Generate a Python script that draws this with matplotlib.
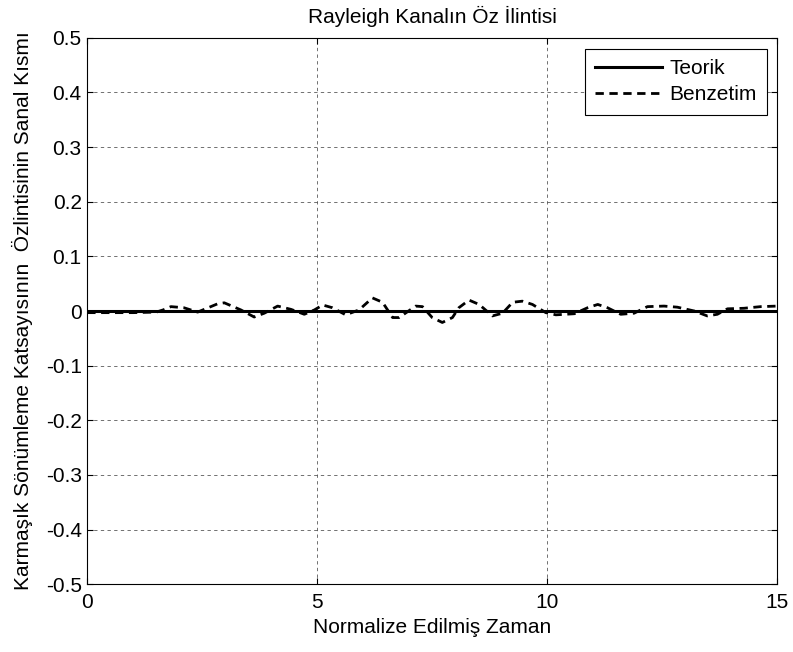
import numpy as np
import matplotlib
matplotlib.use("Agg")
import matplotlib.pyplot as plt

plt.rcParams['font.family'] = ['Liberation Sans', 'DejaVu Sans']

# theoretical (imaginary part is zero)
t_teorik = [0, 15]
r_teorik = [0, 0]

# simulated curve
t_benzetim = [0, 0.5, 1.0, 1.5, 1.65, 1.82, 2.1, 2.4, 2.83, 2.98, 3.34, 3.63, 3.85,
              4.14, 4.43, 4.72, 4.94, 5.12, 5.33, 5.62, 5.91, 6.2, 6.42, 6.64, 6.78,
              7.14, 7.29, 7.5, 7.72, 7.94, 8.08, 8.3, 8.52, 8.81, 9.03, 9.25, 9.46,
              9.68, 9.97, 10.19, 10.59, 10.88, 11.1, 11.31, 11.6, 11.89, 12.18, 12.54,
              12.83, 13.2, 13.48, 13.7, 13.92, 14.28, 14.64, 15.0]
r_benzetim = [-0.003, -0.003, -0.003, -0.002, 0.002, 0.008, 0.006, -0.002, 0.013, 0.015,
              0.002, -0.011, -0.004, 0.009, 0.003, -0.006, 0.002, 0.011, 0.006, -0.007,
              0.002, 0.024, 0.016, -0.012, -0.012, 0.009, 0.008, -0.012, -0.021, -0.012,
              0.006, 0.02, 0.012, -0.009, -0.004, 0.016, 0.018, 0.012, -0.003, -0.007,
              -0.005, 0.006, 0.012, 0.006, -0.006, -0.004, 0.008, 0.009, 0.007, 0.0,
              -0.009, -0.006, 0.004, 0.005, 0.008, 0.009]

xticks = [0, 5, 10, 15]
yticks = [-0.5, -0.4, -0.3, -0.2, -0.1, 0, 0.1, 0.2, 0.3, 0.4, 0.5]
yticklabels = ['-0.5', '-0.4', '-0.3', '-0.2', '-0.1', '0', '0.1', '0.2', '0.3', '0.4', '0.5']

fs = 15

fig = plt.figure(figsize=(7.93, 6.52), dpi=100)
ax = fig.add_axes([0.110, 0.104, 0.870, 0.838])

ax.plot(t_teorik, r_teorik, color='black', lw=2.2, label='Teorik')
ax.plot(t_benzetim, r_benzetim, color='black', lw=2.0, ls=(0, (3, 2)), label='Benzetim')

ax.set_xlim(0, 15)
ax.set_ylim(-0.5, 0.5)
ax.set_xticks(xticks)
ax.set_yticks(yticks)
ax.set_yticklabels(yticklabels)
ax.tick_params(direction='in', labelsize=fs, length=4, top=True, right=True)
ax.tick_params(axis='x', pad=6)
ax.tick_params(axis='y', pad=4)
ax.grid(True, color='#303030', ls=(0, (4, 4)), lw=0.6, alpha=0.8)

ax.set_title('Rayleigh Kanalın Öz İlintisi', fontsize=fs, pad=11)
ax.set_xlabel('Normalize Edilmiş Zaman', fontsize=fs, labelpad=5)
ax.set_ylabel('Karmaşık Sönümleme Katsayısının  Özlintisinin Sanal Kısmı', fontsize=fs, labelpad=9)

leg = ax.legend(loc='upper right', fontsize=fs, fancybox=False, framealpha=1,
                edgecolor='black', handlelength=3.2, handletextpad=0.35,
                borderpad=0.5, labelspacing=0.35, borderaxespad=0,
                bbox_to_anchor=(0.9855, 0.980))
leg.get_frame().set_linewidth(0.8)

fig.savefig('out.png', dpi=100)
